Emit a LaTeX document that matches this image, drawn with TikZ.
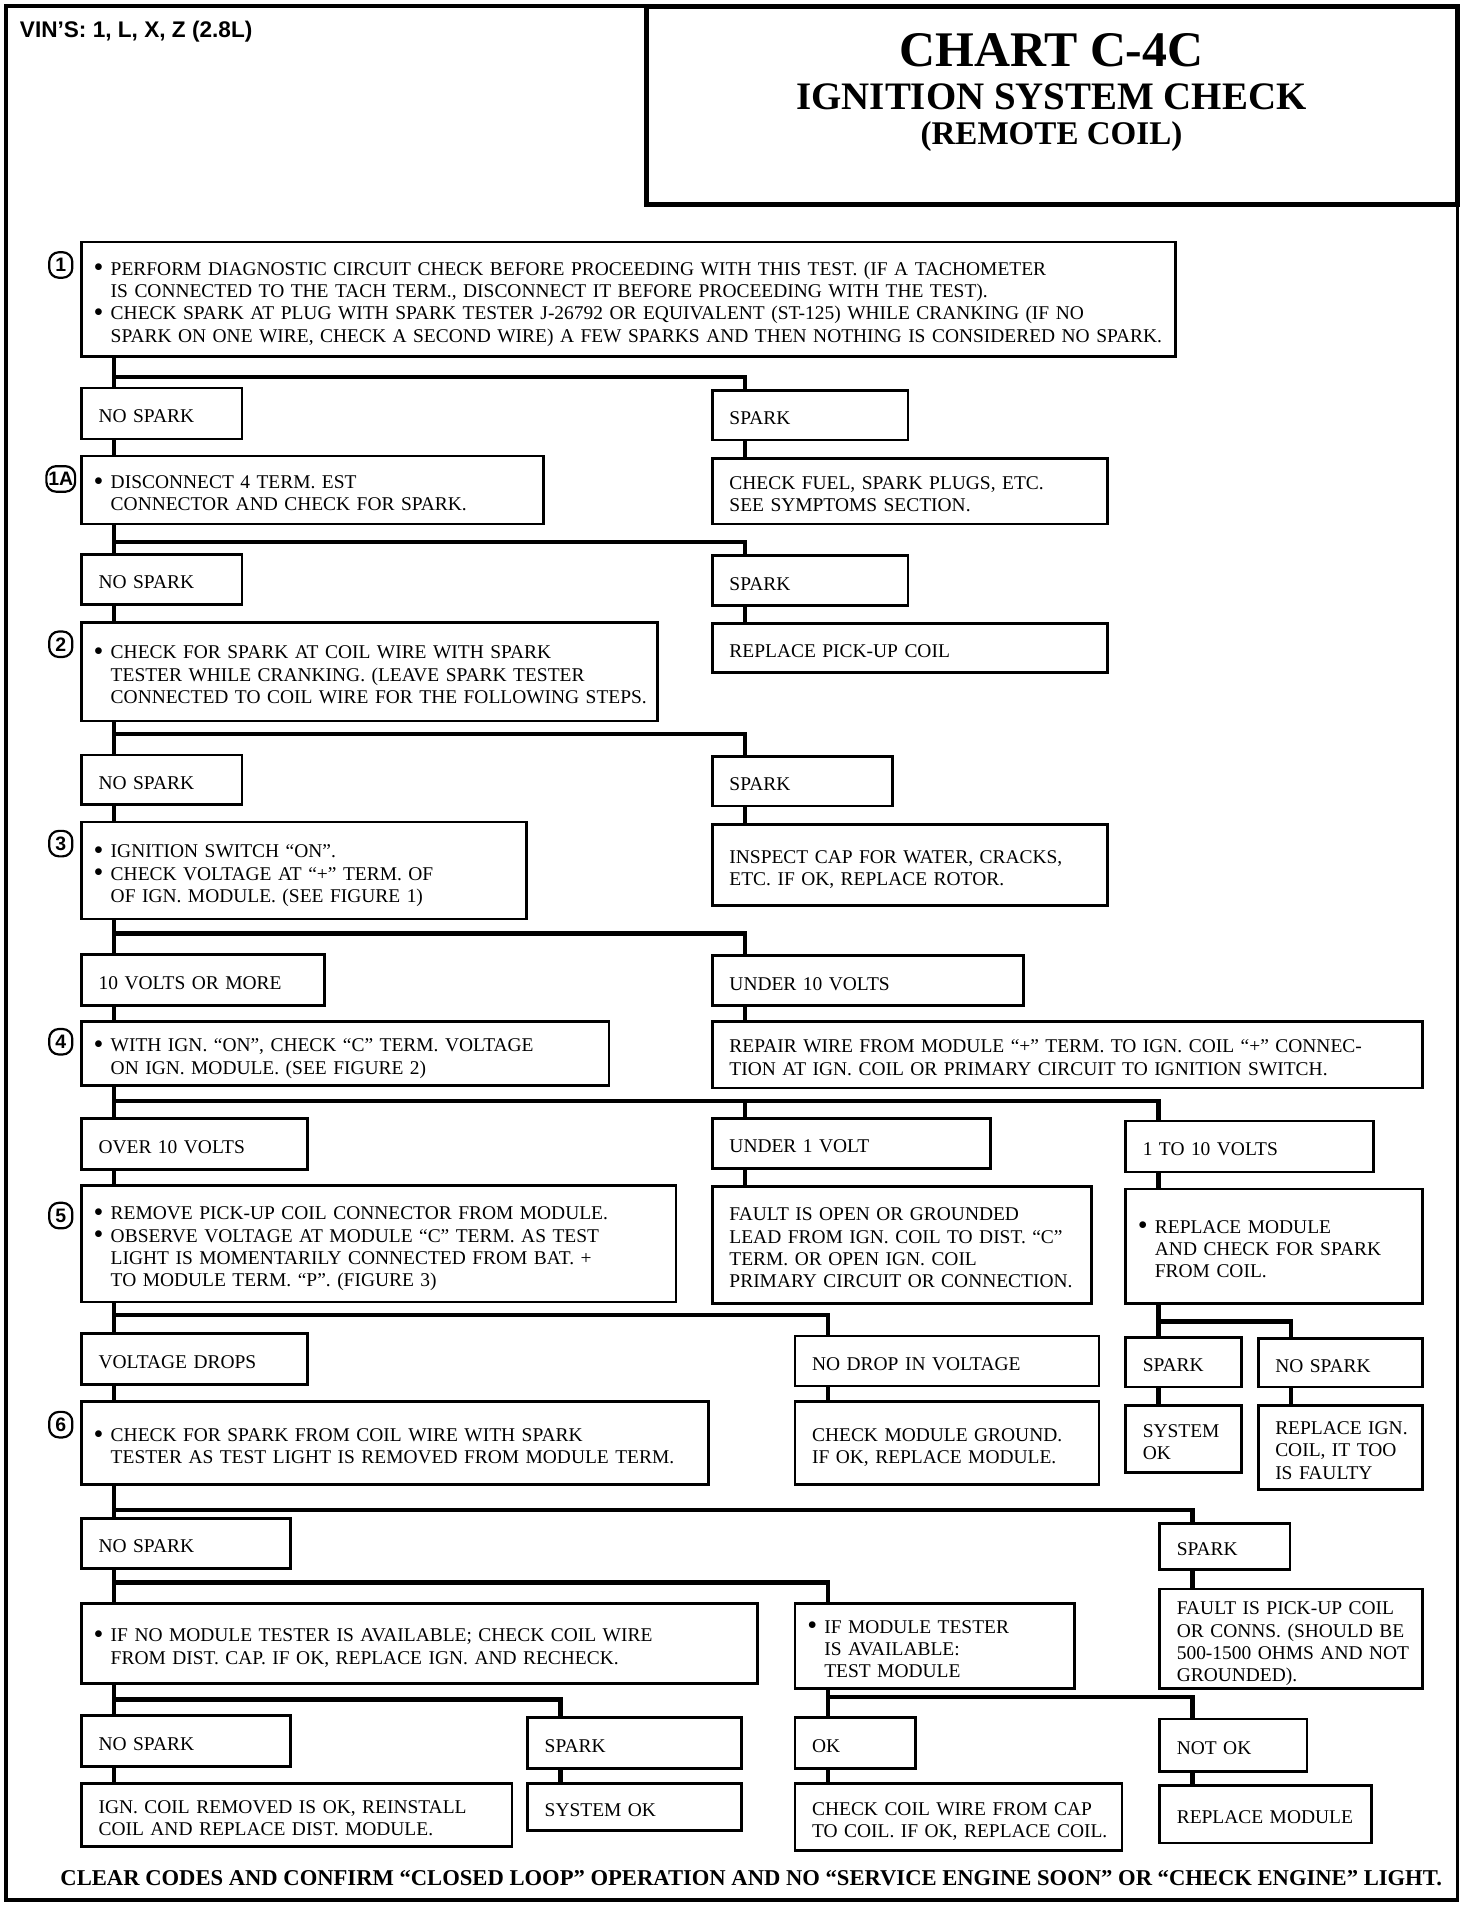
\documentclass[tikz,border=0pt]{standalone}
\usepackage{fontspec}
\setmainfont{Liberation Serif}
\setsansfont{Liberation Sans}
\usetikzlibrary{positioning}

% one unbreakable block of left aligned lines
\newcommand\lns[1]{\begin{tabular}[t]{@{}l@{}}\rule{0pt}{10.6pt}#1\end{tabular}}
\newcommand\bul{\hspace*{-2pt}\makebox[7pt][l]{\smash{\raisebox{-0.7pt}{\scalebox{1.45}{•}}}}}
\newcommand\bsp{\hspace*{5pt}}

\tikzset{
  chk/.style={draw, line width=1.1pt, anchor=north west, inner sep=0pt, align=left,
    font=\fontsize{8}{9.2}\selectfont},
  wh/.style 2 args={minimum width=#1*0.5pt, text width=#1*0.5pt-14pt, minimum height=#2*0.5pt},
  link/.style={line width=1.8pt},
  stepno/.style={draw, line width=0.9pt, rounded corners=4pt, minimum width=9.5pt,
    minimum height=10.5pt, inner sep=0.8pt, font=\sffamily\bfseries\fontsize{8}{8}\selectfont},
}

\begin{document}
\begin{tikzpicture}[x=0.5pt, y=-0.5pt]
\useasboundingbox (0,0) rectangle (1211,1568);

% frame and title
\draw[line width=1.5pt] (5,5) rectangle (1199,1563);
\draw[line width=2pt] (532,5) rectangle (1199,168);
\node[anchor=base west, inner sep=0pt, font=\sffamily\bfseries\fontsize{9.3}{10}\selectfont] (vin) at (16,31) {VIN'S: 1, L, X, Z (2.8L)};
\node[anchor=base, font=\bfseries\fontsize{20.5}{22}\selectfont] (chart) at (865,55) {CHART C-4C};
\node[anchor=base, font=\bfseries\fontsize{16}{18}\selectfont] (ttl) at (865,90) {IGNITION SYSTEM CHECK};
\node[anchor=base, font=\bfseries\fontsize{13.6}{15}\selectfont] (sub) at (865,119) {(REMOTE COIL)};

% step numbers
\node[stepno] (n1) at (50,218) {1};
\node[stepno] (n1a) at (50,394) {1A};
\node[stepno] (n2) at (50,530) {2};
\node[stepno] (n3) at (50,694) {3};
\node[stepno] (n4) at (50,857) {4};
\node[stepno] (n5) at (50,1000) {5};
\node[stepno] (n6) at (50,1172) {6};

% left column
\node[chk, wh={900}{94}] (s1) at (66,198) {\lns{\bul PERFORM DIAGNOSTIC CIRCUIT CHECK BEFORE PROCEEDING WITH THIS TEST. (IF A TACHOMETER\\
  \bsp IS CONNECTED TO THE TACH TERM., DISCONNECT IT BEFORE PROCEEDING WITH THE TEST).\\
  \bul CHECK SPARK AT PLUG WITH SPARK TESTER J-26792 OR EQUIVALENT (ST-125) WHILE CRANKING (IF NO\\
  \bsp SPARK ON ONE WIRE, CHECK A SECOND WIRE) A FEW SPARKS AND THEN NOTHING IS CONSIDERED NO SPARK.}};
\node[chk, wh={132}{42}] (ns1) at (66,318) {\lns{NO SPARK}};
\node[chk, wh={380}{56}] (s1a) at (66,374) {\lns{\bul DISCONNECT 4 TERM. EST\\ \bsp CONNECTOR AND CHECK FOR SPARK.}};
\node[chk, wh={132}{41}] (ns2) at (66,455) {\lns{NO SPARK}};
\node[chk, wh={474}{81}] (s2) at (66,511) {\lns{\bul CHECK FOR SPARK AT COIL WIRE WITH SPARK\\
  \bsp TESTER WHILE CRANKING. (LEAVE SPARK TESTER\\ \bsp CONNECTED TO COIL WIRE FOR THE FOLLOWING STEPS.}};
\node[chk, wh={132}{41}] (ns3) at (66,620) {\lns{NO SPARK}};
\node[chk, wh={366}{80}] (s3) at (66,675) {\lns{\bul IGNITION SWITCH “ON”.\\ \bul CHECK VOLTAGE AT “+” TERM. OF\\ \bsp OF IGN. MODULE. (SEE FIGURE 1)}};
\node[chk, wh={200}{42}] (v10) at (66,784) {\lns{10 VOLTS OR MORE}};
\node[chk, wh={434}{53}] (s4) at (66,839) {\lns{\bul WITH IGN. “ON”, CHECK “C” TERM. VOLTAGE\\ \bsp ON IGN. MODULE. (SEE FIGURE 2)}};
\node[chk, wh={186}{42}] (o10) at (66,919) {\lns{OVER 10 VOLTS}};
\node[chk, wh={489}{96}] (s5) at (66,974) {\lns{\bul REMOVE PICK-UP COIL CONNECTOR FROM MODULE.\\
  \bul OBSERVE VOLTAGE AT MODULE “C” TERM. AS TEST\\ \bsp LIGHT IS MOMENTARILY CONNECTED FROM BAT. +\\ \bsp TO MODULE TERM. “P”. (FIGURE 3)}};
\node[chk, wh={186}{42}] (vd) at (66,1096) {\lns{VOLTAGE DROPS}};
\node[chk, wh={516}{68}] (s6) at (66,1152) {\lns{\bul CHECK FOR SPARK FROM COIL WIRE WITH SPARK\\ \bsp TESTER AS TEST LIGHT IS REMOVED FROM MODULE TERM.}};
\node[chk, wh={172}{41}] (ns6) at (66,1248) {\lns{NO SPARK}};
\node[chk, wh={556}{66}] (nomt) at (66,1318) {\lns{\bul IF NO MODULE TESTER IS AVAILABLE; CHECK COIL WIRE\\ \bsp FROM DIST. CAP. IF OK, REPLACE IGN. AND RECHECK.}};
\node[chk, wh={172}{42}] (ns7) at (66,1410) {\lns{NO SPARK}};
\node[chk, wh={354}{52}] (ignrem) at (66,1466) {\lns{IGN. COIL REMOVED IS OK, REINSTALL\\ COIL AND REPLACE DIST. MODULE.}};

% right side
\node[chk, wh={161}{41}] (sp1) at (585,320) {\lns{SPARK}};
\node[chk, wh={325}{54}] (fuel) at (585,376) {\lns{CHECK FUEL, SPARK PLUGS, ETC.\\ SEE SYMPTOMS SECTION.}};
\node[chk, wh={161}{41}] (sp2) at (585,456) {\lns{SPARK}};
\node[chk, wh={325}{40}] (pick) at (585,512) {\lns{REPLACE PICK-UP COIL}};
\node[chk, wh={148}{41}] (sp3) at (585,621) {\lns{SPARK}};
\node[chk, wh={325}{67}] (cap) at (585,677) {\lns{INSPECT CAP FOR WATER, CRACKS,\\ ETC. IF OK, REPLACE ROTOR.}};
\node[chk, wh={256}{41}] (u10) at (585,785) {\lns{UNDER 10 VOLTS}};
\node[chk, wh={584}{55}] (rep) at (585,839) {\lns{REPAIR WIRE FROM MODULE “+” TERM. TO IGN. COIL “+” CONNEC-\\ TION AT IGN. COIL OR PRIMARY CIRCUIT TO IGNITION SWITCH.}};
\node[chk, wh={229}{41}] (u1) at (585,919) {\lns{UNDER 1 VOLT}};
\node[chk, wh={312}{96}] (fault) at (585,975) {\lns{FAULT IS OPEN OR GROUNDED\\ LEAD FROM IGN. COIL TO DIST. “C”\\ TERM. OR OPEN IGN. COIL\\ PRIMARY CIRCUIT OR CONNECTION.}};
\node[chk, wh={204}{42}] (v110) at (925,921) {\lns{1 TO 10 VOLTS}};
\node[chk, wh={244}{94}] (rmod) at (925,977) {\lns{\bul REPLACE MODULE\\ \bsp AND CHECK FOR SPARK\\ \bsp FROM COIL.}};
\node[chk, wh={250}{41}] (nd) at (653,1098) {\lns{NO DROP IN VOLTAGE}};
\node[chk, wh={250}{68}] (gnd) at (653,1152) {\lns{CHECK MODULE GROUND.\\ IF OK, REPLACE MODULE.}};
\node[chk, wh={95}{41}] (sp5) at (925,1099) {\lns{SPARK}};
\node[chk, wh={95}{55}] (sok1) at (925,1155) {\lns{SYSTEM\\ OK}};
\node[chk, wh={135}{40}] (ns5) at (1034,1100) {\lns{NO SPARK}};
\node[chk, wh={135}{69}] (rign) at (1034,1155) {\lns{REPLACE IGN.\\ COIL, IT TOO\\ IS FAULTY}};
\node[chk, wh={107}{38}] (sp6) at (953,1252) {\lns{SPARK}};
\node[chk, wh={216}{82}] (pick2) at (953,1306) {\lns{FAULT IS PICK-UP COIL\\ OR CONNS. (SHOULD BE\\ 500-1500 OHMS AND NOT\\ GROUNDED).}};
\node[chk, wh={230}{70}] (mt) at (653,1318) {\lns{\bul IF MODULE TESTER\\ \bsp IS AVAILABLE:\\ \bsp TEST MODULE}};
\node[chk, wh={176}{42}] (sp7) at (433,1412) {\lns{SPARK}};
\node[chk, wh={176}{39}] (sok2) at (433,1466) {\lns{SYSTEM OK}};
\node[chk, wh={99}{42}] (ok) at (653,1412) {\lns{OK}};
\node[chk, wh={269}{55}] (ccw) at (653,1466) {\lns{CHECK COIL WIRE FROM CAP\\ TO COIL. IF OK, REPLACE COIL.}};
\node[chk, wh={121}{43}] (nok) at (953,1413) {\lns{NOT OK}};
\node[chk, wh={174}{47}] (rmod2) at (953,1468) {\lns{REPLACE MODULE}};

\node[anchor=base, font=\bfseries\fontsize{9.3}{10}\selectfont] (foot) at (618,1551)
  {CLEAR CODES AND CONFIRM “CLOSED LOOP” OPERATION AND NO “SERVICE ENGINE SOON” OR “CHECK ENGINE” LIGHT.};

% straight drops
\foreach \a/\b in {s1/ns1, ns1/s1a, s1a/ns2, ns2/s2, s2/ns3, ns3/s3, s3/v10, v10/s4, s4/o10, o10/s5,
    s5/vd, vd/s6, s6/ns6, ns6/nomt, nomt/ns7, ns7/ignrem,
    sp1/fuel, sp2/pick, sp3/cap, u10/rep, u1/fault, v110/rmod, rmod/sp5, sp5/sok1, ns5/rign,
    nd/gnd, sp6/pick2, mt/ok, ok/ccw, nok/rmod2, sp7/sok2}
  \draw[link] ([xshift=14pt]\a.south west) -- ([xshift=14pt]\b.north west);

% branches
\coordinate (j1) at (94,310);
\coordinate (j2) at (94,446);
\coordinate (j3) at (94,604);
\coordinate (j4) at (94,768);
\coordinate (j5) at (94,906);
\coordinate (j6) at (94,1082);
\coordinate (j7) at (953,1087);
\coordinate (j8) at (94,1242);
\coordinate (j9) at (94,1302);
\coordinate (j10) at (94,1398);
\coordinate (j11) at (681,1396);
\foreach \j/\b in {j1/sp1, j2/sp2, j3/sp3, j4/u10, j5/u1, j5/v110, j6/nd, j7/ns5,
    j8/sp6, j9/mt, j10/sp7, j11/nok}
  \draw[link] (\j) -| ([xshift=14pt]\b.north west);
\end{tikzpicture}
\end{document}
